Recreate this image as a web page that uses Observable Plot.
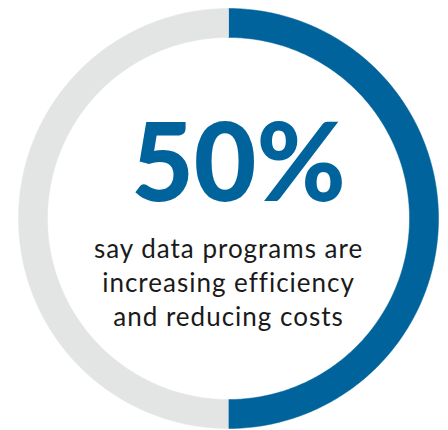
<!DOCTYPE html>
<html>
<head>
<meta charset="utf-8">
<script src="https://cdn.jsdelivr.net/npm/d3@7"></script>
<script src="https://cdn.jsdelivr.net/npm/@observablehq/plot@0.6"></script>
<style>
  html, body { margin: 0; padding: 0; background: #ffffff; }
  #chart { width: 448px; height: 430px; }
  .subtitle text { letter-spacing: 1px; }
</style>
</head>
<body>
<div id="chart"></div>
<script>
// Data
const categories = ["Yes", "Other"];
const shares = [50, 50];
const colors = ["#00639b", "#e3e5e5"];
const headline = "50%";
const subtitleLines = ["say data programs are", "increasing efficiency", "and reducing costs"];

// Build ring polygons from the shares (clockwise from 12 o'clock)
const inner = 0.862;
const total = d3.sum(shares);
let cum = 0;
const ringPts = [];
categories.forEach((c, i) => {
  const a0 = (cum / total) * 2 * Math.PI;
  cum += shares[i];
  const a1 = (cum / total) * 2 * Math.PI;
  const n = 240;
  const outer = d3.range(n + 1).map(k => a0 + (a1 - a0) * k / n);
  outer.forEach(a => ringPts.push({cat: c, x: Math.sin(a), y: Math.cos(a)}));
  outer.slice().reverse().forEach(a => ringPts.push({cat: c, x: inner * Math.sin(a), y: inner * Math.cos(a)}));
});

const chart = Plot.plot({
  width: 448,
  height: 430,
  margin: 0,
  x: {domain: [-1, 1], range: [18, 438], axis: null},
  y: {domain: [-1, 1], range: [428, 8], axis: null},
  color: {domain: categories, range: colors},
  marks: [
    Plot.line(ringPts, {x: "x", y: "y", z: "cat", fill: "cat", stroke: "cat", strokeWidth: 0.5, curve: "linear"}),
    Plot.text([headline], {
      x: 0, y: 0, text: d => d, dx: 10, dy: -18, lineAnchor: "bottom",
      fontFamily: "Lato", fontWeight: 900, fontSize: 108, fill: colors[0]
    }),
    Plot.text([subtitleLines.join("\n")], {
      x: 0, y: 0, text: d => d, dy: 107, lineAnchor: "bottom", lineHeight: 34 / 26,
      fontFamily: "Lato", fontWeight: 400, fontSize: 26, fill: "#1a1a1a", className: "subtitle"
    })
  ]
});
document.getElementById("chart").appendChild(chart);
</script>
</body>
</html>
